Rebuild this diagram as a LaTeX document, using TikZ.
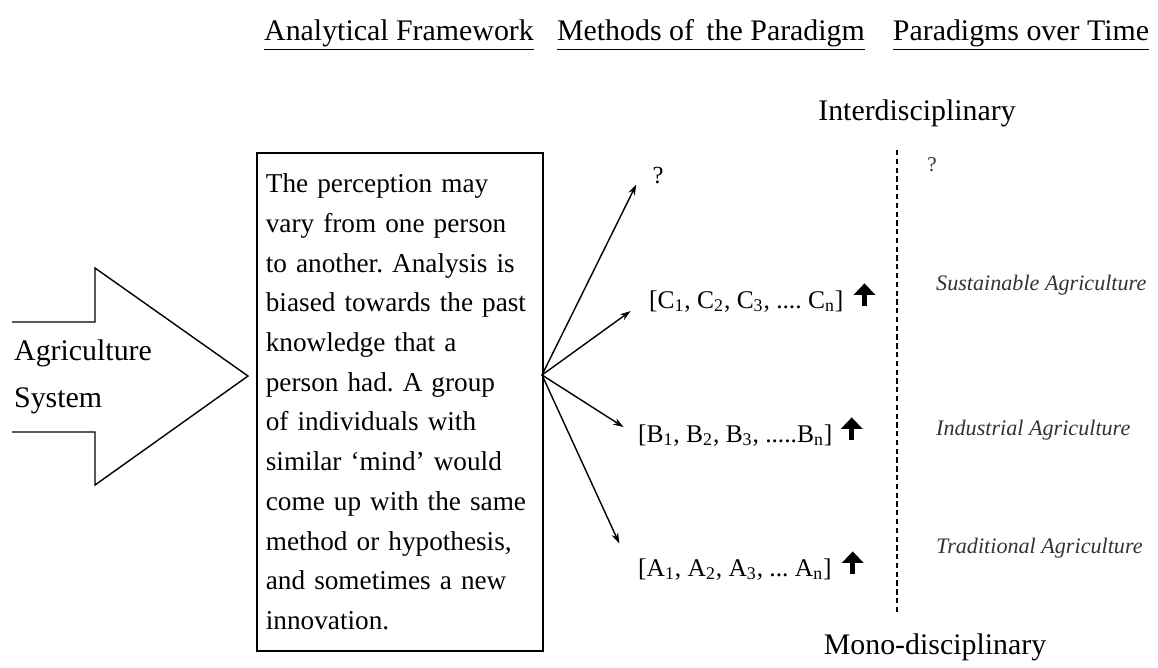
\documentclass[tikz,border=0pt]{standalone}
\usepackage{fontspec}
\setmainfont{Liberation Serif}
\usepackage{tikz}
\usetikzlibrary{arrows.meta,positioning,calc}
\frenchspacing

\newcommand{\upmark}{\tikz[baseline=-1pt]\draw[line width=2.8pt,-{Triangle[length=6.5pt,width=12pt]}] (0,0) -- (0,13pt);}

\begin{document}
\begin{tikzpicture}[
    x=0.02cm, y=-0.02cm,
    >=Stealth,
    head/.style={anchor=base, font=\fontsize{17}{20}\selectfont},
    frame/.style={draw, line width=1pt, anchor=north west, align=left,
                  text width=5.36cm, inner xsep=0.18cm, minimum height=9.96cm,
                  font=\fontsize{15.5}{22.6}\selectfont},
    fan/.style={->, line width=0.8pt, shorten >=1pt,
                arrows={-Stealth[length=6pt,width=4pt]}},
    method/.style={anchor=base west, font=\fontsize{14.5}{16}\selectfont},
    era/.style={anchor=west, font=\fontsize{12.6}{15}\selectfont\itshape, text=black!80},
    pole/.style={font=\fontsize{17}{20}\selectfont}
  ]
  \useasboundingbox (0,0) rectangle (1158,667);

  %% Column headings
  \node (hframe)  [head] at (399,40)  {\underline{Analytical Framework}};
  \node (hmethod) [head] at (711,40)  {\underline{Methods of\, the Paradigm}};
  \node (htime)   [head] at (1021,40) {\underline{Paradigms over Time}};

  %% Big input arrow
  \draw[line width=0.8pt] (12,322) -- (95,322) -- (95,268) -- (248,376)
       -- (95,485) -- (95,432) -- (12,432);
  \node (agri) [anchor=west, align=left, font=\fontsize{17}{27}\selectfont]
       at (8,377) {Agriculture\\System};

  %% Analytical framework box
  \node (box) [frame] at (256,152) {The perception may\\
    vary from one person\\
    to another. Analysis is\\
    biased towards the past\\
    knowledge that a\\
    person had. A group\\
    of individuals with\\
    similar ‘mind’ would\\
    come up with the same\\
    method or hypothesis,\\
    and sometimes a new\\
    innovation.};

  %% Methods
  \node (mq) [font=\fontsize{14}{16}\selectfont] at (658,176) {?};
  \node (mc) [method] at (643,308) {[C\textsubscript{1}, C\textsubscript{2}, C\textsubscript{3}, .... C\textsubscript{n}]\hspace{6pt}\upmark};
  \node (mb) [method] at (632,442) {[B\textsubscript{1}, B\textsubscript{2}, B\textsubscript{3}, .....B\textsubscript{n}]\hspace{5pt}\upmark};
  \node (ma) [method] at (632,576) {[A\textsubscript{1}, A\textsubscript{2}, A\textsubscript{3}, ... A\textsubscript{n}]\hspace{6pt}\upmark};

  \coordinate (fan) at (542,375);
  \coordinate (tq) at (637,183);
  \coordinate (tc) at (632,310);
  \coordinate (tb) at (625,428);
  \coordinate (ta) at (620,545);
  \foreach \t in {tq,tc,tb,ta}
    \draw[fan] (fan) -- (\t);

  %% Paradigms over time
  \node (inter) [pole] at (917,113) {Interdisciplinary};
  \node (mono)  [pole] at (935,647) {Mono-disciplinary};
  \coordinate (dtop) at (897,150);
  \coordinate (dbot) at (897,613);
  \draw[line width=0.7pt, dash pattern=on 3pt off 2pt] (dtop) -- (dbot);

  \node (pq)   [font=\fontsize{12}{14}\selectfont, text=black!80] at (932,165) {?};
  \node (sust) [era] at (930,285) {Sustainable Agriculture};
  \node (ind)  [era] at (930,430) {Industrial Agriculture};
  \node (trad) [era] at (930,548) {Traditional Agriculture};

\end{tikzpicture}
\end{document}
